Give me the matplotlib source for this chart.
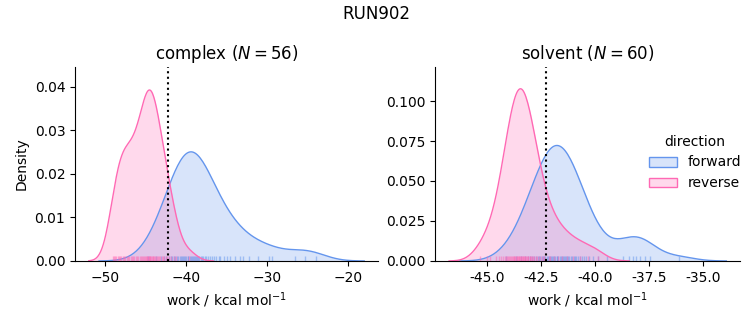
import numpy as np
import matplotlib
matplotlib.use("Agg")
import matplotlib.pyplot as plt
from matplotlib.patches import Patch
from matplotlib.ticker import FormatStrFormatter, MultipleLocator

run_name = "RUN902"
phases = ["complex", "solvent"]
directions = ["forward", "reverse"]
colors = {"forward": "#6495ED", "reverse": "#FF69B4"}

complex_forward = [
    -44.74, -43.69, -43.13, -42.74, -42.42, -42.15, -41.92, -41.69, -41.50, -41.32, -41.13,
    -40.97, -40.81, -40.65, -40.51, -40.37, -40.24, -40.10, -39.96, -39.82, -39.70, -39.56,
    -39.44, -39.30, -39.18, -39.04, -38.90, -38.76, -38.63, -38.49, -38.35, -38.19, -38.03,
    -37.87, -37.68, -37.50, -37.31, -37.08, -36.85, -36.58, -36.26, -35.87, -35.35, -34.56,
    -35.80, -34.90,
    -34.0, -33.3, -33.0, -32.2, -31.1, -29.7, -29.4, -26.6, -25.3, -24.0,
]
complex_reverse = [
    -49.05, -48.92, -48.78, -48.62, -48.46, -48.30, -48.14, -47.98, -47.82, -47.66, -47.50,
    -47.34, -47.18, -47.02, -46.86, -46.70, -46.54, -46.38, -46.22, -46.06, -45.90, -45.74,
    -45.58, -45.42, -45.28, -45.15,
    -45.04, -44.96, -44.88, -44.80, -44.72, -44.64, -44.56, -44.48, -44.40, -44.32, -44.23,
    -44.14, -44.04, -43.94, -43.83, -43.72, -43.60, -43.47, -43.33, -43.18, -43.03, -42.87,
    -42.70, -42.52, -42.32, -42.10, -41.85, -41.55, -41.20, -39.60,
]
solvent_forward = [
    -44.09, -43.65, -43.41, -43.25, -43.11, -43.00, -42.90, -42.81, -42.73, -42.65, -42.58,
    -42.52, -42.46, -42.39, -42.34, -42.28, -42.23, -42.17, -42.12, -42.07, -42.02, -41.97,
    -41.92, -41.87, -41.82, -41.77,
    -41.73, -41.68, -41.63, -41.58, -41.53, -41.48, -41.43, -41.38, -41.33, -41.28, -41.22,
    -41.17, -41.11, -41.04, -40.98, -40.92, -40.85, -40.77, -40.69, -40.60, -40.50, -40.39,
    -40.25, -40.09, -39.85, -39.41,
    -38.70, -38.40, -38.25, -38.10, -37.90, -37.65, -37.45, -36.10,
]
solvent_reverse = [
    -45.30, -45.00,
    -44.84, -44.57, -44.43, -44.32, -44.24, -44.17, -44.11, -44.06, -44.01, -43.96, -43.92,
    -43.88, -43.83, -43.80, -43.76, -43.73, -43.69, -43.66, -43.62, -43.59, -43.56, -43.53,
    -43.50, -43.47,
    -43.43, -43.40, -43.37, -43.34, -43.31, -43.28, -43.24, -43.21, -43.17, -43.14, -43.10,
    -43.07, -43.02, -42.98, -42.94, -42.89, -42.84, -42.79, -42.73, -42.66, -42.59, -42.48,
    -42.33, -42.06,
    -42.40, -42.10, -41.90, -41.70, -41.50, -41.30, -41.00, -40.70, -40.30, -39.85,
]
free_energy = {"complex": -42.2, "solvent": -42.27}
n_cycles = {"complex": 56, "solvent": 60}

works = {
    ("complex", "forward"): complex_forward,
    ("complex", "reverse"): complex_reverse,
    ("solvent", "forward"): solvent_forward,
    ("solvent", "reverse"): solvent_reverse,
}
n_total = sum(len(v) for v in works.values())


def kde_curve(values, gridsize=200, cut=3):
    # gaussian kde, scott bandwidth, normalised over all data like displot does
    x = np.asarray(values, dtype=float)
    bw = x.std(ddof=1) * len(x) ** (-1 / 5)
    grid = np.linspace(x.min() - cut * bw, x.max() + cut * bw, gridsize)
    z = (grid[:, None] - x[None, :]) / bw
    dens = np.exp(-0.5 * z ** 2).sum(axis=1) / (len(x) * bw * np.sqrt(2 * np.pi))
    return grid, dens * len(x) / n_total


fig = plt.figure(figsize=(7.53, 3.25), dpi=100)
axes = [fig.add_axes([0.0996, 0.197, 0.4024, 0.597]),
        fig.add_axes([0.578, 0.197, 0.405, 0.597])]

ylims = {"complex": 0.0446, "solvent": 0.1213}

for ax, phase in zip(axes, phases):
    for d in directions:
        vals = works[(phase, d)]
        gx, gy = kde_curve(vals)
        ax.fill_between(gx, 0, gy, color=colors[d], alpha=0.25, linewidth=0)
        ax.plot(gx, gy, color=colors[d], linewidth=1)
        ax.vlines(vals, 0, 0.025, transform=ax.get_xaxis_transform(),
                  color=colors[d], alpha=0.5, linewidth=1)
    ax.axvline(free_energy[phase], color="black", linestyle=":", linewidth=1.5)
    ax.set_ylim(0, ylims[phase])
    ax.set_title(f"{phase} ($N={n_cycles[phase]}$)", fontsize=12)
    ax.set_xlabel("work / kcal mol$^{-1}$")
    ax.spines["top"].set_visible(False)
    ax.spines["right"].set_visible(False)

axes[0].set_ylabel("Density")
axes[0].set_yticks([0, 0.01, 0.02, 0.03, 0.04])
axes[1].set_yticks([0, 0.025, 0.05, 0.075, 0.1])
axes[0].yaxis.set_major_formatter(FormatStrFormatter("%.2f"))
axes[1].yaxis.set_major_formatter(FormatStrFormatter("%.3f"))
axes[1].xaxis.set_major_locator(MultipleLocator(2.5))
axes[1].xaxis.set_major_formatter(FormatStrFormatter("%.1f"))

handles = [Patch(facecolor=matplotlib.colors.to_rgba(colors[d], 0.25),
                 edgecolor=colors[d], linewidth=1) for d in directions]
fig.legend(handles, directions, title="direction", loc="center left",
           bbox_to_anchor=(0.845, 0.5), frameon=False)

fig.suptitle(run_name, y=0.985, fontsize=12)
fig.savefig("out.png", dpi=100)
